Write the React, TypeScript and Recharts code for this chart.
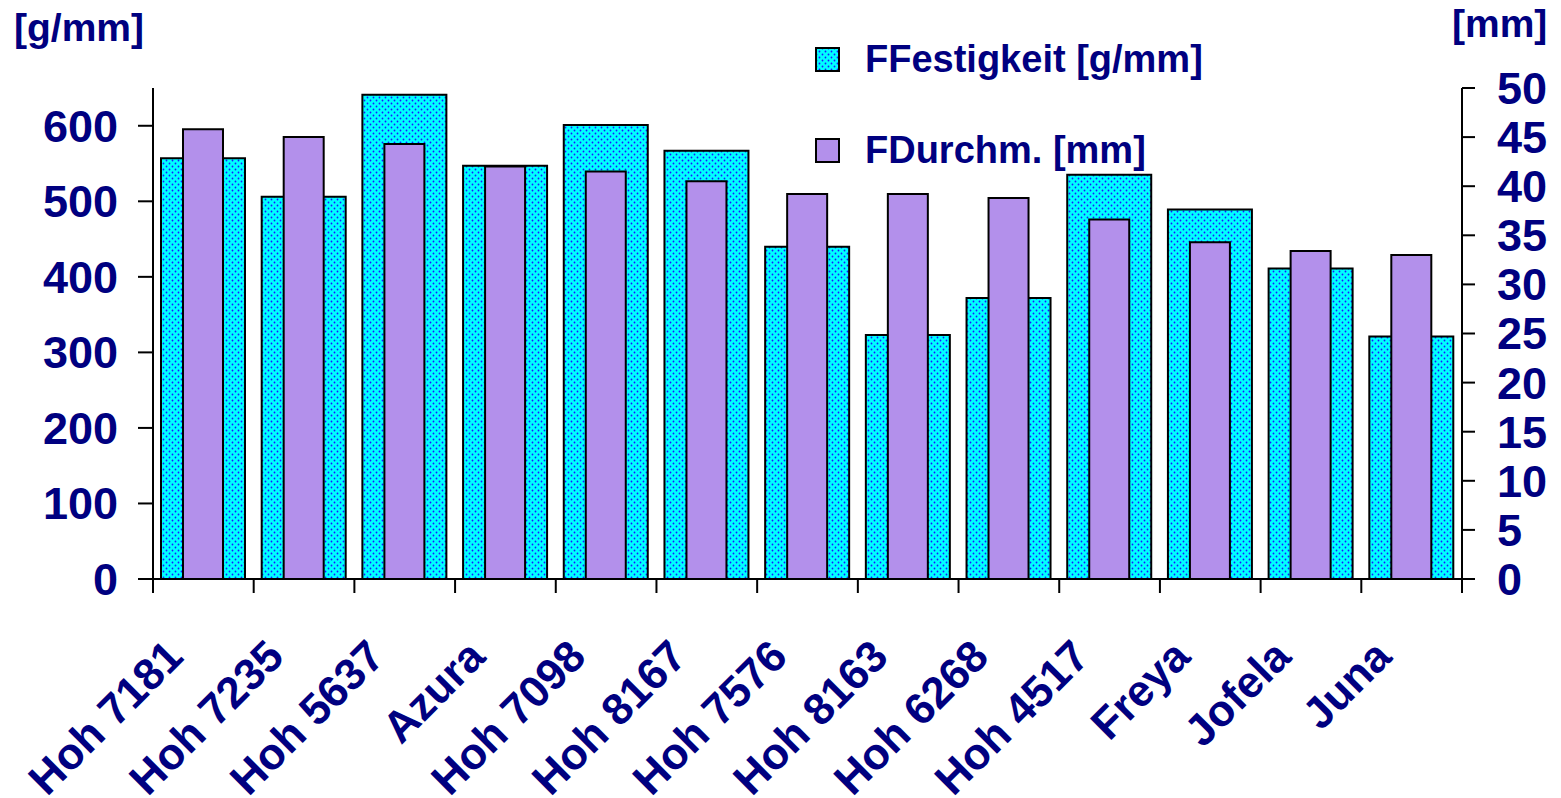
import { Bar, BarChart, Legend, XAxis, YAxis } from 'recharts'

const varieties = [
  'Hoh 7181',
  'Hoh 7235',
  'Hoh 5637',
  'Azura',
  'Hoh 7098',
  'Hoh 8167',
  'Hoh 7576',
  'Hoh 8163',
  'Hoh 6268',
  'Hoh 4517',
  'Freya',
  'Jofela',
  'Juna',
]

// Festigkeit in g/mm (left axis)
const festigkeit = [557, 506, 641, 547, 601, 567, 440, 323, 372, 535, 489, 411, 321]

// Durchmesser in mm (right axis)
const durchmesser = [45.8, 45.0, 44.3, 42.0, 41.5, 40.5, 39.2, 39.2, 38.8, 36.6, 34.3, 33.4, 33.0]

const leftTicks = [0, 100, 200, 300, 400, 500, 600]
const rightTicks = [0, 5, 10, 15, 20, 25, 30, 35, 40, 45, 50]

const data = varieties.map((name, i) => ({
  name,
  festigkeit: festigkeit[i],
  durchmesser: durchmesser[i],
}))

const W = 1561
const H = 798
const LEFT_W = 153
const RIGHT_W = 99
const NAVY = '#000080'
const PURPLE = '#b390eb'
const FONT = '"Liberation Sans", Arial, sans-serif'
const seriesOrder = ['festigkeit', 'durchmesser']

const bandWidth = (W - LEFT_W - RIGHT_W) / varieties.length

const CategoryTick = (props: any) => {
  const { x, y, payload, index } = props
  const left = x - bandWidth / 2
  const last = index === varieties.length - 1
  const tx = x - 18
  const ty = y + 80
  return (
    <g>
      <line x1={left} y1={y} x2={left} y2={y + 14} stroke="#000" strokeWidth={2} />
      {last && (
        <line x1={x + bandWidth / 2} y1={y} x2={x + bandWidth / 2} y2={y + 14} stroke="#000" strokeWidth={2} />
      )}
      <text
        x={tx}
        y={ty}
        transform={`rotate(-45 ${tx} ${ty})`}
        textAnchor="end"
        fill={NAVY}
        fontSize={44}
        fontWeight="bold"
        fontFamily={FONT}
      >
        {payload.value}
      </text>
    </g>
  )
}

const LegendBox = ({ payload }: any) => {
  const items = [...(payload ?? [])].sort(
    (a: any, b: any) => seriesOrder.indexOf(a.dataKey) - seriesOrder.indexOf(b.dataKey),
  )
  return (
    <div style={{ fontFamily: FONT }}>
      {items.map((entry: any) => (
        <div key={entry.value} style={{ display: 'flex', alignItems: 'center', height: 91 }}>
          <svg width={26} height={26} style={{ marginRight: 24 }}>
            <defs>
              <pattern id="legendDots" width={6} height={6} patternUnits="userSpaceOnUse">
                <rect width={6} height={6} fill="#00ffff" />
                <circle cx={1.5} cy={1.5} r={0.9} fill="#1a1aff" />
                <circle cx={4.5} cy={4.5} r={0.9} fill="#1a1aff" />
              </pattern>
            </defs>
            <rect
              x={1}
              y={1}
              width={23}
              height={23}
              fill={entry.dataKey === 'festigkeit' ? 'url(#legendDots)' : PURPLE}
              stroke="#000"
              strokeWidth={2}
            />
          </svg>
          <span style={{ color: NAVY, fontSize: 38, fontWeight: 'bold' }}>{entry.value}</span>
        </div>
      ))}
    </div>
  )
}

const tickStyle = { fill: NAVY, fontSize: 45, fontWeight: 'bold', fontFamily: FONT }

export default function App() {
  return (
    <div style={{ position: 'absolute', left: 0, top: 0, width: W, height: H, background: '#fff' }}>
      <div
        style={{
          position: 'absolute',
          left: 14,
          top: 6,
          color: NAVY,
          fontFamily: FONT,
          fontWeight: 'bold',
          fontSize: 39,
        }}
      >
        [g/mm]
      </div>
      <div
        style={{
          position: 'absolute',
          left: 1452,
          top: 2,
          color: NAVY,
          fontFamily: FONT,
          fontWeight: 'bold',
          fontSize: 39,
        }}
      >
        [mm]
      </div>
      <BarChart width={W} height={H} data={data} margin={{ top: 88, right: 0, left: 0, bottom: 0 }}>
        <defs>
          <pattern id="cyanDots" width={6} height={6} patternUnits="userSpaceOnUse">
            <rect width={6} height={6} fill="#00ffff" />
            <circle cx={1.5} cy={1.5} r={0.9} fill="#1a1aff" />
            <circle cx={4.5} cy={4.5} r={0.9} fill="#1a1aff" />
          </pattern>
        </defs>
        <XAxis
          xAxisId="labels"
          dataKey="name"
          height={H - 579}
          interval={0}
          tickLine={false}
          tickSize={0}
          tickMargin={0}
          axisLine={{ stroke: '#000', strokeWidth: 2 }}
          tick={<CategoryTick />}
        />
        <XAxis xAxisId="inner" dataKey="name" hide height={0} />
        <YAxis
          yAxisId="left"
          orientation="left"
          width={LEFT_W}
          domain={[0, 650]}
          ticks={leftTicks}
          interval={0}
          tickSize={15}
          tickMargin={20}
          axisLine={{ stroke: '#000', strokeWidth: 2 }}
          tickLine={{ stroke: '#000', strokeWidth: 2 }}
          tick={tickStyle}
        />
        <YAxis
          yAxisId="right"
          orientation="right"
          width={RIGHT_W}
          domain={[0, 50]}
          ticks={rightTicks}
          interval={0}
          tickSize={13}
          tickMargin={22}
          axisLine={{ stroke: '#000', strokeWidth: 2 }}
          tickLine={{ stroke: '#000', strokeWidth: 2 }}
          tick={{ ...tickStyle, textAnchor: 'start' }}
        />
        <Legend
          layout="vertical"
          align="center"
          verticalAlign="middle"
          content={<LegendBox />}
          wrapperStyle={{ position: 'absolute', left: 815, top: 14, width: 420 }}
        />
        <Bar
          name="FFestigkeit [g/mm]"
          dataKey="festigkeit"
          xAxisId="labels"
          yAxisId="left"
          barSize={84}
          fill="url(#cyanDots)"
          stroke="#000"
          strokeWidth={2}
          isAnimationActive={false}
        />
        <Bar
          name="FDurchm. [mm]"
          dataKey="durchmesser"
          xAxisId="inner"
          yAxisId="right"
          barSize={40}
          fill={PURPLE}
          stroke="#000"
          strokeWidth={2}
          isAnimationActive={false}
        />
      </BarChart>
    </div>
  )
}
